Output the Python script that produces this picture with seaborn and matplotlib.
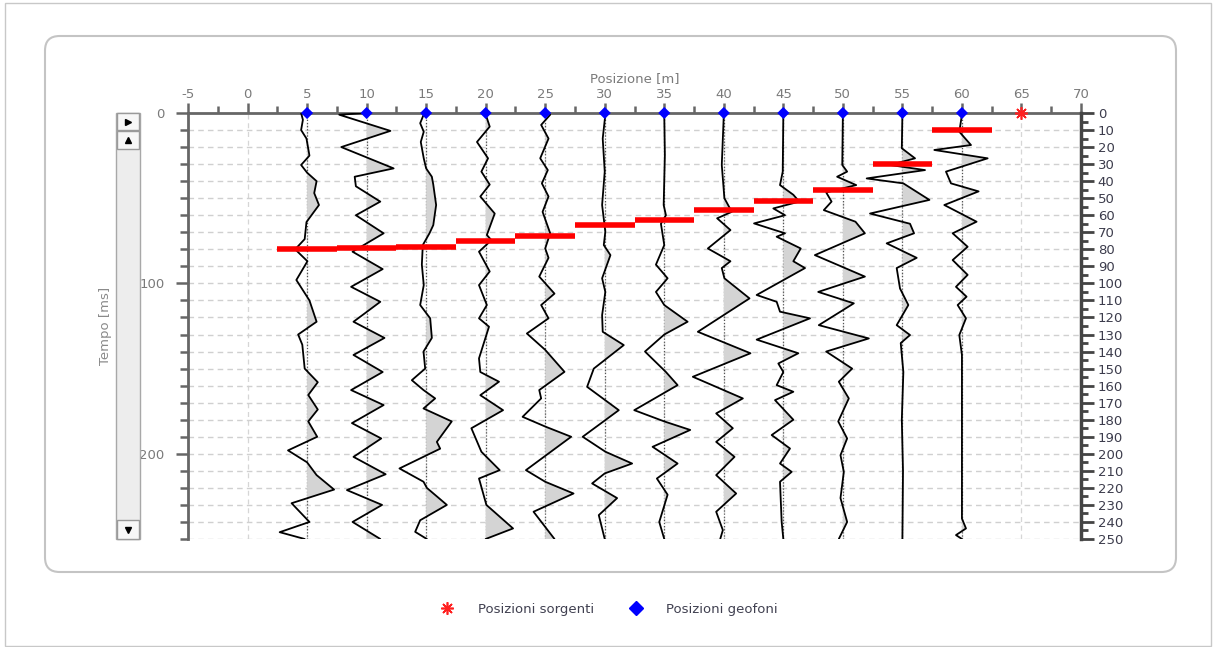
import matplotlib
matplotlib.use("Agg")
import matplotlib.pyplot as plt
import seaborn as sns
import numpy as np
import pandas as pd
from matplotlib.patches import FancyBboxPatch, Rectangle
from matplotlib.ticker import MultipleLocator
from matplotlib.lines import Line2D

# geometry of the survey
geophones = [5, 10, 15, 20, 25, 30, 35, 40, 45, 50, 55, 60]
sources = [65]
first_breaks = [80, 79, 78.5, 75, 72, 66, 63, 57, 51.5, 45, 30, 10]   # ms, red picks

# traces: time [ms] and deflection [m] at turning points
t05 = [0, 4, 10, 15, 25, 30.5, 35, 40, 47, 54, 64, 74, 80, 87, 98, 110, 122.5, 130, 136, 150,
       158, 165.5, 174, 181, 190, 198, 205, 212.5, 221, 229, 240, 246, 250]
a05 = [-0.5, -0.35, -0.5, -0.05, 0.2, -0.5, 0, 0.8, 0.6, 1.0, -0.05, -0.2, -1.0, 0.03, -0.9, 0.2, 0.8,
       -0.75, -0.4, -0.2, 0.9, 0.1, 0.9, 0.1, 0.85, -1.6, 0, 0.8, 2.27, -1.3, 0.2, -2.3, -0.2]
t10 = [0, 1, 10.5, 20, 32.5, 37.4, 43, 52, 60, 70.6, 81.4, 91.6, 102, 110.8, 122.5, 132, 142,
       152, 162.6, 171.4, 182, 191, 201.8, 212, 221.3, 230, 240, 250]
a10 = [0, -2.3, 2.0, -2.13, 2.27, -1.0, -0.9, 1.15, -0.9, 1.43, -1.18, 1.35, -1.3, 1.15, -1.1, 1.5,
       -1.1, 1.35, -1.3, 1.43, -1.23, 1.23, -1.1, 1.6, -1.65, 1.3, -1.18, 1.15]
t15 = [0.8, 6, 11, 17, 26.6, 32.5, 37.4, 42, 54, 65.8, 70.6, 77.5, 89, 101, 112.7, 120.5, 132, 140,
       150, 156.8, 162.6, 167.5, 173.4, 181, 193, 197, 208.6, 216.4, 220, 230, 239, 245.8, 250]
a15 = [-0.2, -0.5, -0.2, -0.45, -0.2, 0, 0.48, 0.6, 0.84, 0.6, 0.28, -0.28, -0.36, -0.2, -0.5, 0.34,
       0.48, -0.22, -0.08, -1.2, -0.22, 0.76, -0.22, 2.15, 0.9, 1.18, -2.24, -0.22, 0.06, 1.74, -0.5,
       -0.92, 0.06]
t20 = [0.8, 8, 17, 26.6, 34.4, 42, 49, 59, 71.6, 74.6, 81.4, 93, 101, 112.7, 120.5, 125.4, 144, 152,
       157.7, 165.6, 174.4, 185, 198.8, 209.6, 214.5, 230, 243.8, 250]
a20 = [0, 0.34, -0.73, 0.2, -0.36, 0.34, -0.45, 0.76, 0.1, 0.48, -0.56, 0.34, -0.56, 0.1, -0.56, 0.28,
       -0.56, -0.45, 1.12, -0.45, 1.46, -1.2, -0.36, 1.18, -0.56, 0.06, 2.3, 0]
t25 = [1, 7, 15, 26.6, 33.5, 41.3, 49, 58, 70.6, 79.5, 85, 96, 106, 112.7, 120.5, 129.4, 139, 151.9,
       162.6, 167.5, 178.3, 184, 190, 209.6, 216.4, 223.3, 234, 250]
a25 = [0.42, -0.34, 0.28, -0.42, 0.22, -0.28, 0.28, -0.22, 0.42, 0, 0.28, -0.5, 0.78, -0.34, 0.28,
       -1.54, 0, 1.62, -0.5, -0.34, -1.9, 0, 2.18, -1.62, 0, 2.38, -0.98, 0.78]
t30 = [1, 15, 34.4, 54, 69.7, 77.5, 83.4, 97, 105, 118.6, 128.4, 136.2, 150, 160.7, 174.4, 190,
       198.8, 205.7, 211.5, 217.4, 226, 236, 250]
a30 = [0.05, -0.17, 0, -0.22, 0.05, -0.08, 0.48, -0.22, 0.05, -0.22, -0.17, 1.6, -0.92, -1.48, 1.18,
       -1.85, 0.06, 2.3, 0, -1.06, 1.04, -0.5, 0]
t35 = [1, 24.7, 54, 60, 65, 77.5, 89, 97, 105, 112.7, 122.5, 130, 140, 152, 159.7, 174.4, 181, 186,
       195.9, 205.7, 214.5, 224, 240, 250]
a35 = [0, 0.05, -0.05, 0.14, -0.28, 0, -0.7, 0.28, -0.7, 0, 1.96, 0, -1.62, 0.14, 1.12, -2.52, 0, 2.18,
       -0.98, 1.12, -0.62, 0.28, -0.42, 0]
t40 = [1, 30.5, 50, 58, 61.8, 68.7, 79.5, 87, 91, 97, 108.8, 128.4, 141, 154.8, 167.5, 176.3, 185,
       193, 201.8, 212.5, 223.3, 234, 244.8, 250]
a40 = [0, -0.17, 0.05, 0.67, -0.56, 0.56, -1.34, 0.56, -0.17, 0.05, 2.16, -2.18, 2.24, -2.6, 1.6,
       -0.64, 0.76, -0.64, 0.9, -0.64, 1.04, -0.64, -0.08, -0.3]
t45 = [1, 34.4, 42.3, 48, 52, 56, 60, 64.8, 70.6, 72.6, 79.5, 87, 91, 106.8, 110.8, 116.6, 120.5,
       133, 141, 147, 152, 159.7, 163.6, 168.5, 180, 189, 196.9, 205.7, 210.6, 216.4, 240, 250]
a45 = [0, -0.05, -0.28, 0.84, 1.34, -0.84, 0.14, -2.46, 0.14, -0.56, 1.46, 0.84, 1.82, -2.24, -0.56,
       -0.28, 2.24, -2.24, 1.26, -0.42, 0, -0.56, 0.84, -0.7, 0.84, -0.98, 0.56, -0.28, 0.7, -0.28,
       -0.14, 0]
t50 = [1, 30.5, 34.4, 37.4, 42.3, 46.6, 52, 57, 63.8, 70.6, 83.4, 96, 105, 111.7, 124.5, 132.3, 140,
       150, 157.7, 167.5, 181, 191, 200.8, 210.6, 226, 240, 250]
a50 = [0, -0.05, 0.36, -0.48, 1.12, -1.4, -0.95, -1.6, 1.06, 1.85, -2.35, 1.85, -2.07, 0.92, -2.02,
       2.18, -1.4, 0.78, -0.34, 0.5, -0.39, 0.36, -0.2, 0.08, -0.2, 0.36, -0.34]
t55 = [1, 20.7, 26.6, 30.5, 33.5, 38.4, 41.3, 51, 59, 65, 70.6, 76.5, 85, 91, 103, 112.7, 124.5,
       130.3, 135, 152, 180, 210, 250]
a55 = [0, -0.05, 1.06, -1.04, 1.9, -3.0, 0.08, 2.27, -2.72, 0.64, 0.98, -1.32, 1.2, -0.48, -0.2, 0.5,
       -0.48, 0.64, -0.14, 0.08, -0.05, 0.05, 0]
t60 = [1, 11, 18.8, 21.7, 26.6, 34.4, 41.3, 46, 54, 63.8, 70.6, 78.5, 86.3, 95, 102, 107.8, 112.7,
       120.5, 130.3, 142, 238, 243.8, 247.7, 250]
a60 = [0, -0.22, 0.76, -2.32, 2.16, -1.34, -0.92, 1.4, -1.48, 1.23, -0.78, 0.48, -0.78, 0.48, -0.5,
       0.39, -0.36, 0.34, -0.22, 0, 0, 0.34, -0.5, 0]

trace_times = [t05, t10, t15, t20, t25, t30, t35, t40, t45, t50, t55, t60]
trace_amps = [a05, a10, a15, a20, a25, a30, a35, a40, a45, a50, a55, a60]

W, H = 1218, 647


def fx(px):
    return px / W


def fy(py):
    return 1 - py / H


sns.set_style("white")
plt.rcParams["font.family"] = ["DejaVu Sans"]
plt.rcParams["axes.unicode_minus"] = False

fig = plt.figure(figsize=(W / 100, H / 100), dpi=100)

# outer image border and rounded panel (behind the axes)
fig.patches.append(Rectangle((fx(5), fy(646)), fx(1206), 643 / H, transform=fig.transFigure,
                             fill=False, ec="#c8c8c8", lw=1, zorder=-5))
fig.patches.append(FancyBboxPatch((fx(45), fy(572)), fx(1131), 536 / H, transform=fig.transFigure,
                                  boxstyle="round,pad=0,rounding_size=0.012", fill=False,
                                  ec="#c4c4c4", lw=1.5, mutation_aspect=W / H, zorder=-5))

ax = fig.add_axes([fx(188), fy(539), fx(1081 - 188), (539 - 113) / H])
ax.patch.set_alpha(0)
ax.set_xlim(-5, 70)
ax.set_ylim(250, 0)

# grid
for gx in range(0, 70, 5):
    ax.axvline(gx, color="#d6d6d6", lw=0.9, ls=(0, (4, 3)), zorder=0)
for gy in range(10, 251, 10):
    ax.axhline(gy, color="#d0d0d0", lw=1.0, ls=(0, (4, 3)), zorder=0)

# traces
for pos, tt, aa in zip(geophones, trace_times, trace_amps):
    tt = np.asarray(tt, dtype=float)
    aa = np.asarray(aa, dtype=float)
    ax.plot([pos, pos], [0, 250], color="#555555", lw=0.9, ls=(0, (1, 1.5)), zorder=1)
    ax.fill_betweenx(tt, pos + aa, pos, where=aa > 0, interpolate=True,
                     color="#d4d4d4", lw=0, zorder=2)
    df = pd.DataFrame({"x": pos + aa, "t": tt})
    sns.lineplot(data=df, x="x", y="t", orient="y", sort=False, color="black",
                 lw=1.3, ax=ax, zorder=3)

# first-break picks
ax.hlines(first_breaks, [g - 2.5 for g in geophones], [g + 2.5 for g in geophones],
          color="#ff0000", lw=4, zorder=5)

# geophones and sources
sns.scatterplot(x=geophones, y=[0] * len(geophones), marker="D", color="#0000ff", s=38,
                edgecolor="none", ax=ax, zorder=6, clip_on=False)
ax.plot(sources, [0] * len(sources), marker=(8, 2, 0), color="#ff2020", ms=9, mew=1.2,
        ls="none", zorder=6, clip_on=False)

ax.set_xlabel("")
ax.set_ylabel("")

# spines
ax.spines["bottom"].set_visible(False)
ax.spines["right"].set_visible(False)
for s in ["top", "left"]:
    ax.spines[s].set_color("#666666")
    ax.spines[s].set_linewidth(2)

ax.xaxis.tick_top()
ax.xaxis.set_major_locator(MultipleLocator(5))
ax.xaxis.set_minor_locator(MultipleLocator(2.5))
ax.yaxis.set_major_locator(MultipleLocator(100))
ax.yaxis.set_minor_locator(MultipleLocator(10))
ax.tick_params(axis="x", which="major", length=7, width=1.8, color="#666666",
               labelsize=9.5, labelcolor="#7a7a7a", pad=2, top=True, bottom=False)
ax.tick_params(axis="x", which="minor", length=5, width=1.8, color="#666666", top=True, bottom=False)
ax.tick_params(axis="y", which="major", length=9, width=1.8, color="#666666",
               labelsize=9.5, labelcolor="#7a7a7a", pad=8)
ax.tick_params(axis="y", which="minor", length=6, width=1.8, color="#666666")
ax.set_title("Posizione [m]", fontsize=9.5, color="#7a7a7a", pad=4)

ax2 = ax.twinx()
ax2.set_ylim(250, 0)
for s in ["top", "bottom", "left"]:
    ax2.spines[s].set_visible(False)
ax2.spines["right"].set_color("#444444")
ax2.spines["right"].set_linewidth(2.5)
ax2.yaxis.set_major_locator(MultipleLocator(10))
ax2.yaxis.set_minor_locator(MultipleLocator(5))
ax2.tick_params(axis="y", which="major", length=9, width=2, color="#444444",
                labelsize=9.5, labelcolor="#3c3c4c", pad=3)
ax2.tick_params(axis="y", which="minor", length=5, width=2, color="#444444")

# time label and the scroll bar beside it
fig.text(fx(105), fy(326), "Tempo [ms]", rotation=90, ha="center", va="center",
         fontsize=9.5, color="#8a8a8a")
fig.add_artist(Rectangle((fx(116), fy(539)), fx(24), 426 / H, transform=fig.transFigure,
                         fc="#ededed", ec="#a8a8a8", lw=1))
for top, bot, sym in [(113, 130, ">"), (131, 149, "^"), (520, 539, "v")]:
    fig.add_artist(Rectangle((fx(117), fy(bot)), fx(22), (bot - top) / H,
                             transform=fig.transFigure, fc="#f7f7f7", ec="#9a9a9a", lw=1))
    fig.add_artist(Line2D([fx(128)], [fy((top + bot) / 2)], marker=sym,
                          color="black", ms=4, transform=fig.transFigure))

# legend
handles = [Line2D([], [], marker=(8, 2, 0), color="#ff2020", ls="none", ms=9, mew=1.2),
           Line2D([], [], marker="D", color="#0000ff", ls="none", ms=7)]
fig.legend(handles, ["Posizioni sorgenti", "Posizioni geofoni"], loc="center",
           bbox_to_anchor=(fx(606), fy(609)), ncol=2, frameon=False, fontsize=9.5,
           labelcolor="#404050", handletextpad=1.3, columnspacing=2.2)

fig.savefig("out.png", dpi=100)
